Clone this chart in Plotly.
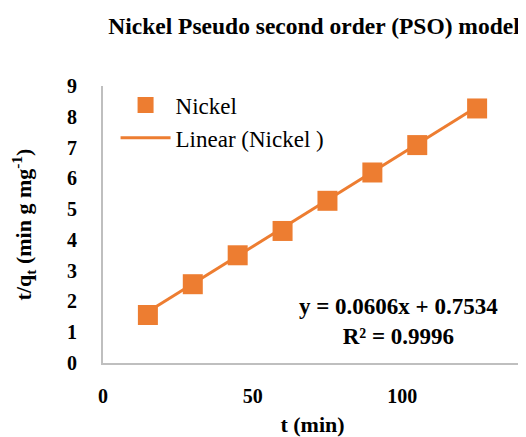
import plotly.graph_objects as go

# Data
t_min = [15, 30, 45, 60, 75, 90, 105, 125]
t_over_q = [1.56, 2.56, 3.50, 4.29, 5.27, 6.19, 7.08, 8.27]
slope = 0.0606
intercept = 0.7534
r_squared = 0.9996
x_ticks = [0, 50, 100]
y_ticks = [0, 1, 2, 3, 4, 5, 6, 7, 8, 9]

orange = "#ED7D31"
axis_grey = "#BFBFBF"
font_family = "Liberation Serif"

W, H = 518, 429  # page body has an 8px margin

fit_x = [min(t_min), max(t_min)]
fit_y = [slope * v + intercept for v in fit_x]

fig = go.Figure()
fig.add_trace(go.Scatter(
    x=fit_x, y=fit_y, mode="lines", name="Linear (Nickel )",
    line=dict(color=orange, width=3),
))
fig.add_trace(go.Scatter(
    x=t_min, y=t_over_q, mode="markers", name="Nickel",
    marker=dict(symbol="square", size=20, color=orange),
))

tick_font = dict(size=20, family=font_family, color="black", weight="bold")
title_font = dict(size=22, family=font_family, color="black", weight="bold")
ann_font = dict(size=23, family=font_family, color="black", weight="bold")

fig.update_layout(
    width=W, height=H,
    margin=dict(l=95, r=4, t=78, b=74),
    paper_bgcolor="white", plot_bgcolor="white",
    font=dict(family=font_family, color="black", size=19),
    title=dict(
        text="Nickel Pseudo second order (PSO) model",
        x=306 / W, xanchor="center", y=1 - 18 / H, yanchor="middle",
        font=dict(size=23.5, family=font_family, color="black", weight="bold"),
    ),
    showlegend=True,
    legend=dict(
        x=0.03, y=1.009, xanchor="left", yanchor="top",
        bgcolor="rgba(0,0,0,0)", traceorder="reversed",
        font=dict(size=23, family=font_family, color="black"),
        itemwidth=50, tracegroupgap=0,
    ),
    xaxis=dict(
        range=[0, 140], tickvals=x_ticks, showgrid=False, zeroline=False,
        showline=True, linecolor=axis_grey, linewidth=2,
        ticks="", ticklabelstandoff=14, automargin=False,
        tickfont=tick_font,
        title=dict(text="t (min)", standoff=12, font=title_font),
    ),
    yaxis=dict(
        range=[0, 9], tickvals=y_ticks, showgrid=False, zeroline=False,
        showline=True, linecolor=axis_grey, linewidth=2,
        ticks="", ticklabelstandoff=20, automargin=False,
        tickfont=tick_font,
        title=dict(text="t/q<sub>t</sub> (min g mg<sup>-1</sup>)",
                   standoff=36, font=title_font),
    ),
)

fig.add_annotation(
    x=0.706, y=0.15, xref="paper", yref="paper",
    text=f"y = {slope}x + {intercept}<br>R² = {r_squared}",
    showarrow=False, align="center", xanchor="center", yanchor="middle",
    font=ann_font,
)

fig.write_html("out.html")
